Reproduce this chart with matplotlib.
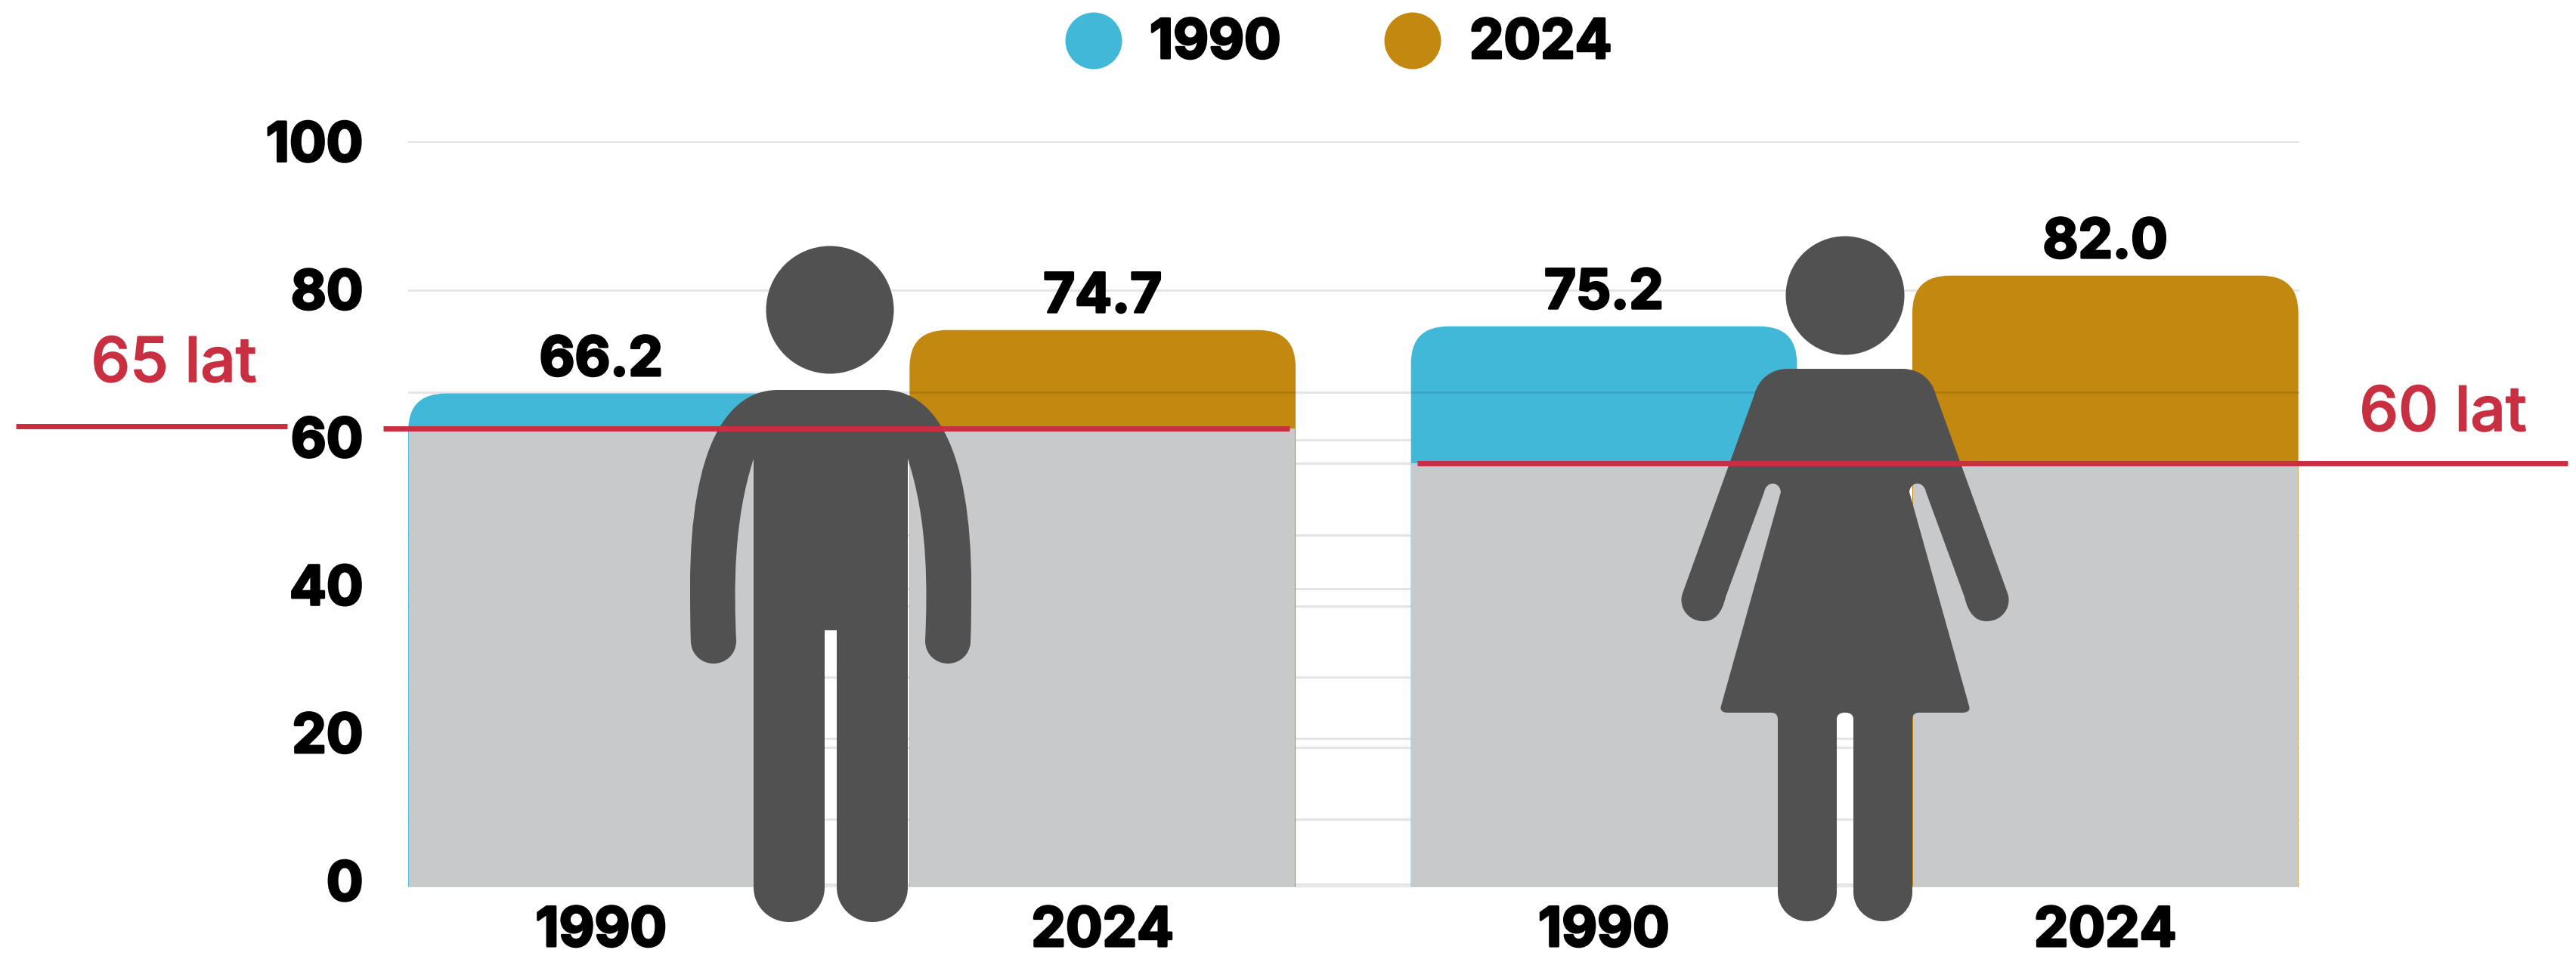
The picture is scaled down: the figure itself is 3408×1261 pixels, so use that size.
import matplotlib
matplotlib.use('Agg')
import matplotlib.pyplot as plt
import matplotlib.patheffects as pe
from matplotlib.path import Path
from matplotlib.patches import PathPatch, Ellipse

plt.rcParams['font.family'] = ['Inter', 'DejaVu Sans']

categories = ['1990', '2024', '1990', '2024']
life_years = [66.2, 74.7, 75.2, 82.0]
retirement_band = [61.5, 61.5, 56.8, 56.8]  # grey block height
yticks = [0, 20, 40, 60, 80, 100]
ghost_grid = [0.4, 9.1, 18.7, 28.2, 37.7, 47.2, 56.8, 66.4]  # second set of lines left in the source
legend_years = ['1990', '2024']

BLUE = '#41b8d8'
GOLD = '#c2880f'
GREY = '#c8c9cb'
RED = '#c83041'
ICON = '#515151'
colors = [BLUE, GOLD, BLUE, GOLD]
heavy = [pe.withStroke(linewidth=2.2, foreground='black')]
heavy_red = [pe.withStroke(linewidth=1.2, foreground=RED)]

W, H = 3408, 1261
fig = plt.figure(figsize=(W / 100, H / 100), dpi=100)
ax = fig.add_axes([539 / W, 1 - 1174 / H, (3042 - 539) / W, (1174 - 187) / H])
ax.set_xlim(-0.3866, 3.387)
ax.set_ylim(0, 100)
for s in ax.spines.values():
    s.set_visible(False)


def rounded_bar(x, w, h, color):
    # rounded top corners, about 50 px on the sheet
    rx, ry = 0.075, 5.0
    l, r = x - w / 2, x + w / 2
    verts = [(l, 0), (l, h - ry), (l, h), (l + rx, h), (r - rx, h), (r, h), (r, h - ry), (r, 0), (l, 0)]
    codes = [Path.MOVETO, Path.LINETO, Path.CURVE3, Path.CURVE3, Path.LINETO,
             Path.CURVE3, Path.CURVE3, Path.LINETO, Path.CLOSEPOLY]
    ax.add_patch(PathPatch(Path(verts, codes), fc=color, ec='none', zorder=2))


bar_w = 0.77
ax.hlines(yticks, -0.3866, 3.387, color='#e4e4e4', lw=2, zorder=1)
ax.hlines(ghost_grid, -0.3866, 3.387, color='#e4e4e4', lw=2, zorder=1)
for i, v in enumerate(life_years):
    rounded_bar(i, bar_w, v, colors[i])
ax.bar(range(4), retirement_band, width=bar_w - 0.002, color=GREY, zorder=3)
# faint line visible through the coloured bars
for i in [1, 2, 3]:
    ax.hlines(66.4, i - bar_w / 2, i + bar_w / 2, color='k', alpha=0.1, lw=2, zorder=4)
ax.hlines(0, -0.3866, 3.387, color='#cfcfcf', lw=2, zorder=4)

ax.set_yticks([])
ax.set_xticks(range(4))
ax.set_xticklabels(categories, fontsize=52, fontweight='bold', color='black', path_effects=heavy)
ax.tick_params(axis='both', length=0)
ax.tick_params(axis='x', pad=18)
for i, v in enumerate(life_years):
    ax.annotate(f'{v:.1f}', (i, v), xytext=(0, 17), textcoords='offset points', ha='center',
                va='baseline', fontsize=52, fontweight='bold', color='black', zorder=5,
                path_effects=heavy)

# y labels sit on a slightly tighter scale than the bars in the source
lab_ax = fig.add_axes([539 / W, 1 - 1165 / H, 0.01, (1165 - 187) / H], frameon=False)
lab_ax.patch.set_alpha(0)
lab_ax.set_ylim(0, 100)
lab_ax.set_xticks([])
lab_ax.set_yticks(yticks)
lab_ax.set_yticklabels([str(t) for t in yticks], fontsize=52, fontweight='bold', color='black',
                       path_effects=heavy)
lab_ax.tick_params(axis='y', length=0, pad=42)

# overlay in sheet pixels for the icons, red markers and legend
ov = fig.add_axes([0, 0, 1, 1], zorder=5)
ov.set_xlim(0, W)
ov.set_ylim(H, 0)
ov.axis('off')
ov.patch.set_alpha(0)


def mirror_path(start, segs, cx):
    # segs is the right half of the outline, top to bottom; the left half is mirrored
    verts = [start]
    codes = [Path.MOVETO]
    for seg in segs:
        verts += seg
        codes += [Path.LINETO] if len(seg) == 1 else [Path.CURVE4] * 3
    back = [(2 * cx - x, y) for x, y in verts[::-1]]
    for seg in segs[::-1]:
        codes += [Path.LINETO] if len(seg) == 1 else [Path.CURVE4] * 3
    verts += back[1:]
    verts.append(start)
    codes.append(Path.CLOSEPOLY)
    return Path(verts, codes)


man = [
    [(1169, 516)],
    [(1235, 516), (1285, 590), (1285, 775)],
    [(1285, 800), (1285, 825), (1284, 850)],
    [(1283, 866), (1270, 878), (1254, 878)],
    [(1238, 878), (1224, 866), (1224, 848)],
    [(1227, 780), (1228, 690), (1201, 607)],
    [(1201, 1174)],
    [(1201, 1200), (1180, 1220), (1154, 1220)],
    [(1128, 1220), (1107, 1200), (1107, 1174)],
    [(1107, 834)],
    [(1099, 834)],
]
ov.add_patch(PathPatch(mirror_path((1099, 516), man, 1099), fc=ICON, ec='none'))
ov.add_patch(Ellipse((1098, 410), 169, 169, fc=ICON, ec='none'))

woman = [
    [(2517, 488)],
    [(2540, 488), (2556, 503), (2561, 522)],
    [(2656, 785)],
    [(2662, 802), (2650, 822), (2628, 822)],
    [(2614, 822), (2604, 812), (2599, 790)],
    [(2548, 651)],
    [(2545, 636), (2528, 636), (2526, 651)],
    [(2605, 934)],
    [(2607, 940), (2603, 943), (2596, 943)],
    [(2539, 943)],
    [(2533, 943), (2530, 946), (2530, 952)],
    [(2530, 1180)],
    [(2530, 1202), (2513, 1219), (2491, 1219)],
    [(2469, 1219), (2452, 1202), (2452, 1180)],
    [(2452, 952)],
    [(2452, 945), (2447, 943), (2441, 943)],
]
ov.add_patch(PathPatch(mirror_path((2441, 488), woman, 2441), fc=ICON, ec='none'))
ov.add_patch(Ellipse((2441, 391), 157, 157, fc=ICON, ec='none'))

# retirement age markers
ov.plot([21, 380], [564, 564], color=RED, lw=5, solid_capstyle='butt', zorder=1)
ov.plot([507, 1706], [567, 567], color=RED, lw=5, solid_capstyle='butt', zorder=1)
ov.plot([1875, 3397], [613, 613], color=RED, lw=5, solid_capstyle='butt', zorder=1)
ov.text(230, 484, '65 lat', color=RED, fontsize=59, fontweight='medium', ha='center', va='center',
        path_effects=heavy_red)
ov.text(3232, 549, '60 lat', color=RED, fontsize=59, fontweight='medium', ha='center', va='center',
        path_effects=heavy_red)

# legend
for cx, tx, lab, c in zip([1447, 1869], [1521, 1944], legend_years, [BLUE, GOLD]):
    ov.add_patch(Ellipse((cx, 54), 75, 75, fc=c, ec='none'))
    ov.text(tx, 58, lab, fontsize=52, fontweight='bold', ha='left', va='center', color='black',
            path_effects=heavy)

fig.savefig('out.png', dpi=100, facecolor='white')
